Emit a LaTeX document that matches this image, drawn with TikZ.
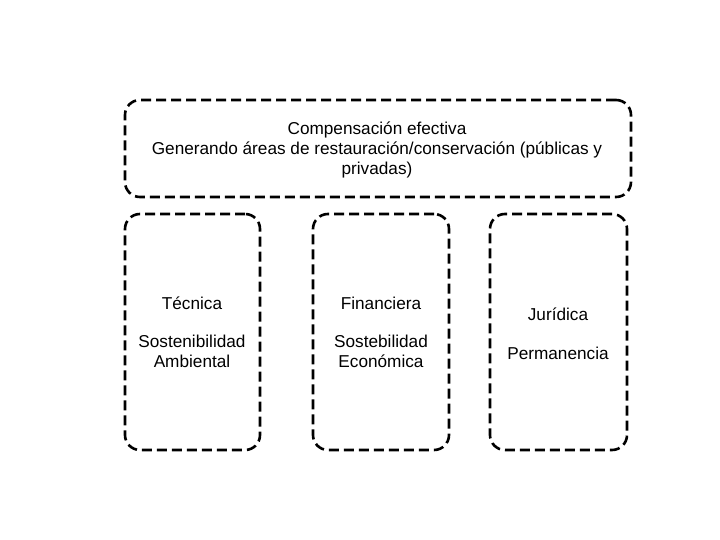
\documentclass[tikz,border=0pt]{standalone}
\usepackage{fontspec}
\setmainfont{Liberation Sans}
\begin{document}
\begin{tikzpicture}[x=1pt,y=-1pt,
  dbox/.style={draw=black,line width=2.6pt,dash pattern=on 10pt off 5pt,rounded corners=15pt,inner sep=0pt},
  lbl/.style={align=center,font=\fontsize{17.2}{20}\selectfont,inner sep=0pt}]
\useasboundingbox (0,0) rectangle (720,540);
\node[dbox,minimum width=506pt,minimum height=97pt] (top) at (378,148.5) {};
\node[dbox,minimum width=135pt,minimum height=236pt] (left) at (192.5,332) {};
\node[dbox,minimum width=136pt,minimum height=236pt] (mid) at (381,332) {};
\node[dbox,minimum width=137pt,minimum height=236pt] (right) at (558.5,332) {};
\node[lbl] (toptext) at (377,150) {Compensación efectiva\\Generando áreas de restauración/conservación (públicas y\\privadas)};
\node[lbl] (tec) at (192,303) {Técnica};
\node[lbl] (sosamb) at (192,351.5) {Sostenibilidad\\Ambiental};
\node[lbl] (fin) at (381,303) {Financiera};
\node[lbl] (soseco) at (381,351.5) {Sostebilidad\\Económica};
\node[lbl] (jur) at (558,314) {Jurídica};
\node[lbl] (perm) at (558,353) {Permanencia};
\end{tikzpicture}
\end{document}
